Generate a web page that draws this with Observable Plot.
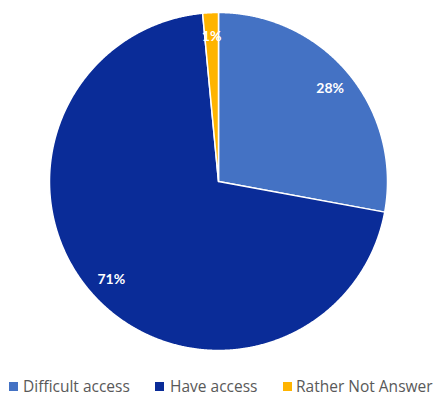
<!DOCTYPE html>
<html><head><meta charset="utf-8">
<script src="https://cdn.jsdelivr.net/npm/d3@7"></script>
<script src="https://cdn.jsdelivr.net/npm/@observablehq/plot@0.6"></script>
<style>
body{margin:0;background:#fff;}
#chart svg{display:block;}
#legend{position:relative;width:434px;height:34px;font-family:"Open Sans",Lato,sans-serif;font-size:15.5px;color:#595959;}
#legend .sw{position:absolute;top:20px;width:9px;height:9px;}
#legend .lb{position:absolute;top:14px;line-height:20px;white-space:nowrap;}
</style>
</head><body>
<div id="chart"></div>
<div id="legend"></div>
<script>
const categories = ["Difficult access", "Have access", "Rather Not Answer"];
const values = [27.9, 70.6, 1.5];
const labels = ["28%", "71%", "1%"];
const colors = ["#4472C4", "#0A2C98", "#FFB400"];

const rows = categories.map((c, i) => ({category: c, value: values[i], label: labels[i]}));
const arcs = d3.pie().sort(null).value(d => d.value)(rows);
const pts = [];
for (const a of arcs) {
  const n = Math.max(4, Math.ceil((a.endAngle - a.startAngle) / 0.005));
  pts.push({category: a.data.category, x: 0, y: 0});
  for (let k = 0; k <= n; k++) {
    const t = a.startAngle + (a.endAngle - a.startAngle) * k / n;
    pts.push({category: a.data.category, x: Math.sin(t), y: Math.cos(t)});
  }
}
const labelPts = arcs.map(a => {
  const m = (a.startAngle + a.endAngle) / 2;
  const r = 0.86;
  return {text: a.data.label, x: r * Math.sin(m), y: r * Math.cos(m)};
});

const chart = Plot.plot({
  width: 434, height: 362,
  marginLeft: 49, marginRight: 47, marginTop: 12, marginBottom: 12,
  x: {domain: [-1, 1], axis: null},
  y: {domain: [-1, 1], axis: null},
  color: {domain: categories, range: colors},
  style: {background: "white"},
  marks: [
    Plot.line(pts, {x: "x", y: "y", z: "category", fill: "category", stroke: "white", strokeWidth: 1.5, curve: "linear-closed"}),
    Plot.text(labelPts, {x: "x", y: "y", text: "text", fill: "white", fontWeight: "bold", fontSize: 14, fontFamily: "Lato, sans-serif"})
  ]
});
document.getElementById("chart").appendChild(chart);

const legendX = [[9, 23], [155, 170], [283, 296]];
const legend = document.getElementById("legend");
categories.forEach((c, i) => {
  const sw = document.createElement("div");
  sw.className = "sw"; sw.style.left = legendX[i][0] + "px"; sw.style.background = colors[i];
  const lb = document.createElement("div");
  lb.className = "lb"; lb.style.left = legendX[i][1] + "px"; lb.textContent = c;
  legend.appendChild(sw); legend.appendChild(lb);
});
</script>
</body></html>
